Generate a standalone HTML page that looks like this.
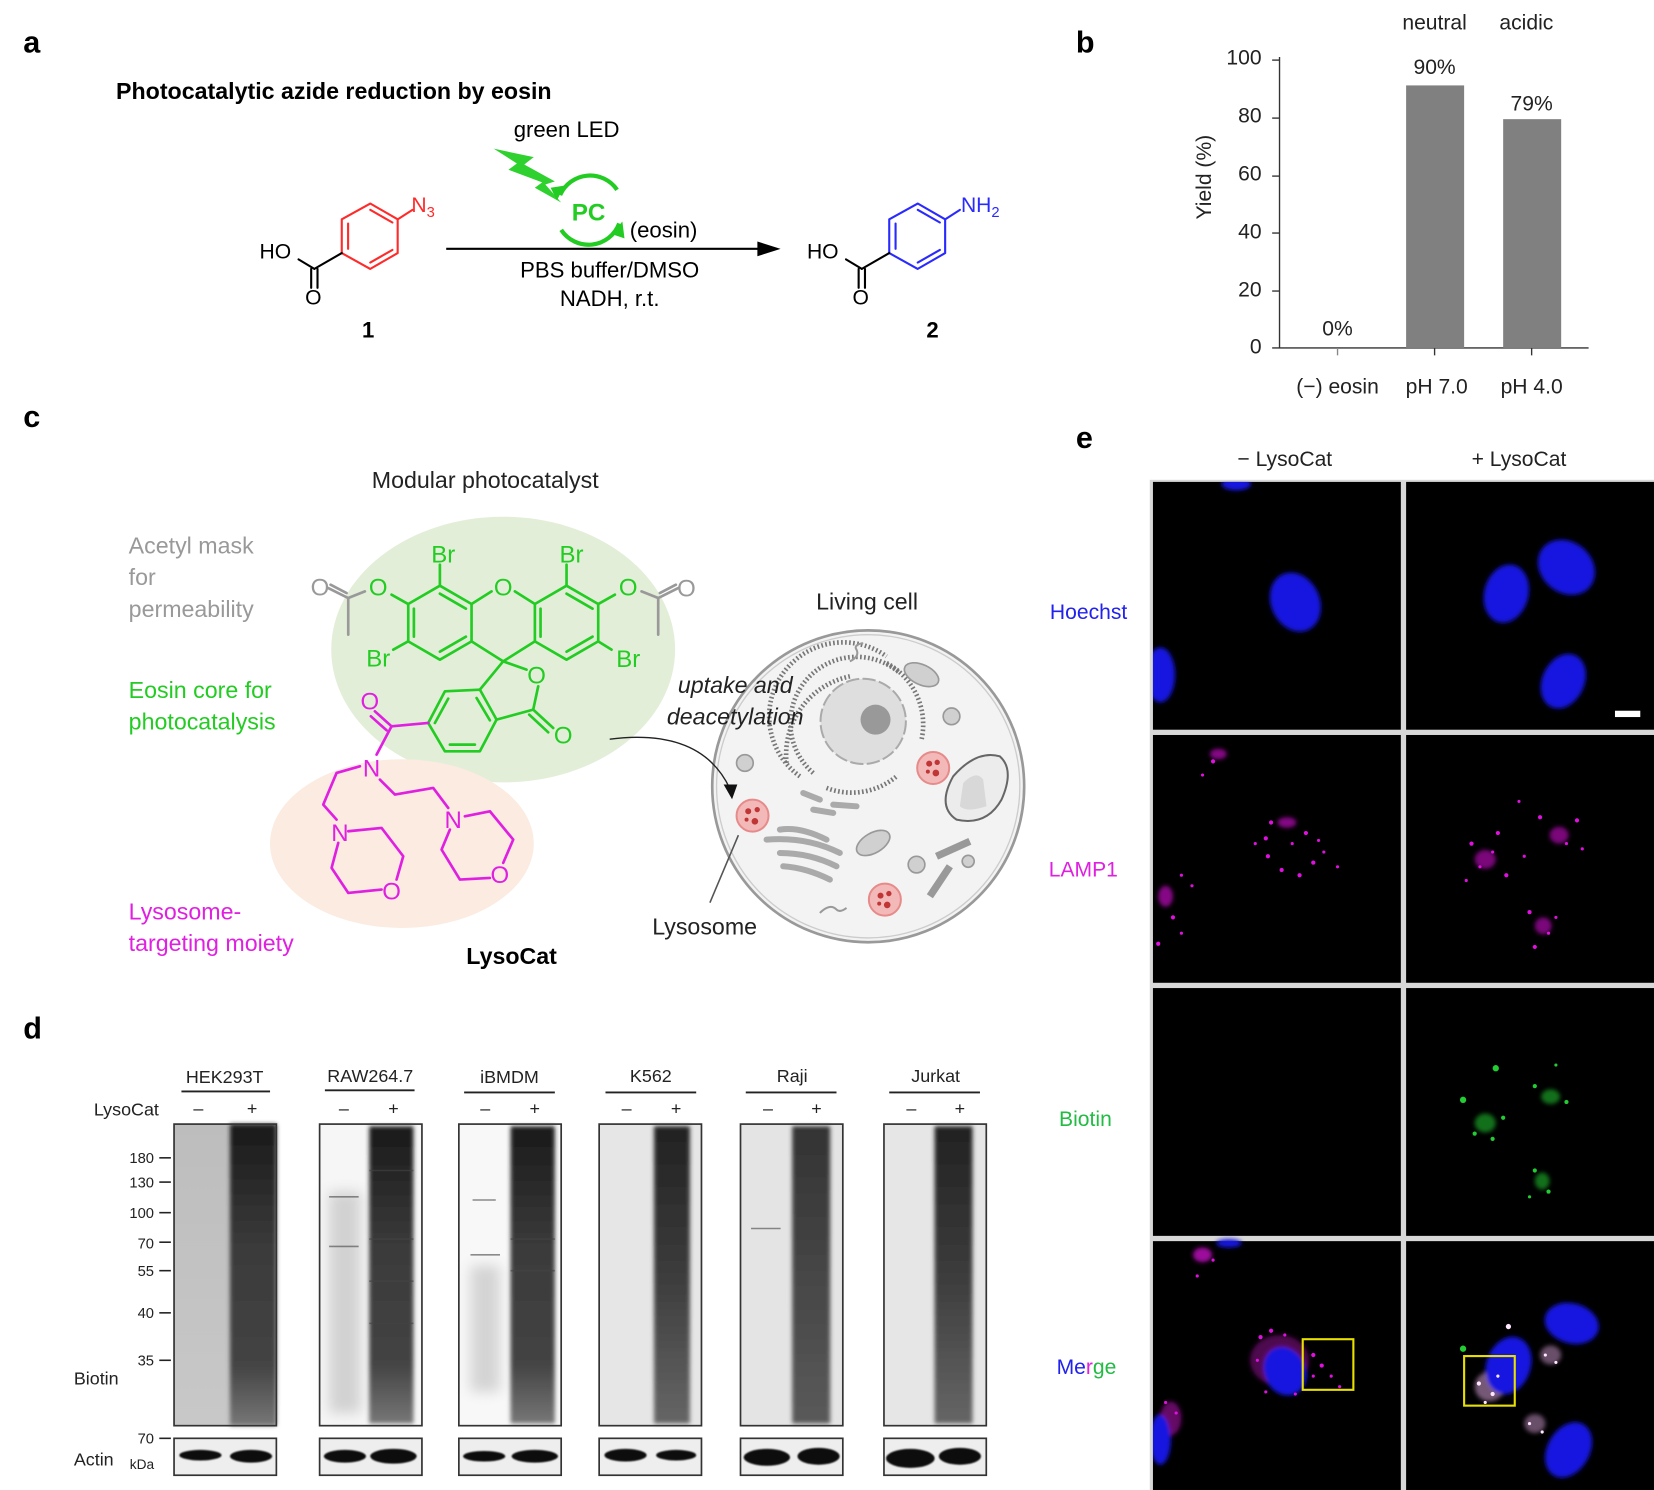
<!DOCTYPE html>
<html><head><meta charset="utf-8"><style>
html,body{margin:0;padding:0;background:#fff}
svg{display:block}
text{font-family:"Liberation Sans",Arial,sans-serif}
</style></head><body>
<svg width="1654" height="1490" viewBox="0 0 1568 1413" preserveAspectRatio="none" xmlns="http://www.w3.org/2000/svg">
<defs>
<filter id="bl" x="-50%" y="-50%" width="200%" height="200%"><feGaussianBlur stdDeviation="2"/></filter>
<filter id="bl1" x="-50%" y="-50%" width="200%" height="200%"><feGaussianBlur stdDeviation="0.8"/></filter>
<filter id="bl6" x="-50%" y="-50%" width="200%" height="200%"><feGaussianBlur stdDeviation="6"/></filter>
<linearGradient id="dk1" x1="0" y1="0" x2="0" y2="1"><stop offset="0" stop-color="#1a1a1a"/><stop offset="0.4" stop-color="#3a3a3a"/><stop offset="0.8" stop-color="#444"/><stop offset="1" stop-color="#777"/></linearGradient>
<linearGradient id="dk2" x1="0" y1="0" x2="0" y2="1"><stop offset="0" stop-color="#222"/><stop offset="0.5" stop-color="#3c3c3c"/><stop offset="1" stop-color="#666"/></linearGradient>
<linearGradient id="dk3" x1="0" y1="0" x2="0" y2="1"><stop offset="0" stop-color="#333"/><stop offset="0.6" stop-color="#4a4a4a"/><stop offset="1" stop-color="#5a5a5a"/></linearGradient>
<linearGradient id="lt1" x1="0" y1="0" x2="0" y2="1"><stop offset="0" stop-color="#bdbdbd"/><stop offset="1" stop-color="#c8c8c8"/></linearGradient>
</defs>

<!-- ===== a ===== -->
<text x="22" y="50" font-size="29" font-weight="bold">a</text>
<text x="110" y="94" font-size="22" font-weight="bold">Photocatalytic azide reduction by eosin</text>
<text x="487" y="130" font-size="21">green LED</text>
<polygon points="468,141 506,149 497,156 526,172 517,175 532,192 507,178 514,173 482,161 490,155" fill="#2ed12e"/>
<g fill="none" stroke="#22cc22" stroke-width="4">
  <path d="M 531 185 A 31 31 0 0 1 585 180"/>
  <path d="M 587 212 A 31 31 0 0 1 532 218"/>
</g>
<polygon points="535,176 528,190 522,178" fill="#22cc22"/>
<polygon points="580,222 590,210 592,226" fill="#22cc22"/>
<text x="558" y="209" font-size="23" font-weight="bold" fill="#22cc22" text-anchor="middle">PC</text>
<text x="597" y="225" font-size="21">(eosin)</text>
<line x1="423" y1="236" x2="720" y2="236" stroke="#000" stroke-width="2"/>
<polygon points="740,236 718,229 718,243" fill="#000"/>
<text x="578" y="263" font-size="21" text-anchor="middle">PBS buffer/DMSO</text>
<text x="578" y="290" font-size="21" text-anchor="middle">NADH, r.t.</text>
<text x="349" y="320" font-size="21" font-weight="bold" text-anchor="middle">1</text>
<text x="884" y="320" font-size="21" font-weight="bold" text-anchor="middle">2</text>
<g stroke-linecap="round" stroke-linejoin="round" stroke-width="2" fill="none">
  <g stroke="#ff2a2a">
    <polygon points="351,193 377,208 377,240 351,255 324,240 324,208"/>
    <line x1="330" y1="212" x2="330" y2="236"/><line x1="351" y1="199" x2="372" y2="211"/><line x1="372" y1="237" x2="351" y2="249"/>
    <line x1="377" y1="208" x2="391" y2="199"/>
  </g>
  <g stroke="#000">
    <line x1="324" y1="240" x2="298" y2="255"/><line x1="298" y1="255" x2="283" y2="246"/>
    <line x1="295" y1="255" x2="295" y2="273"/><line x1="301" y1="255" x2="301" y2="273"/>
  </g>
  <g transform="translate(519,0)">
  <g stroke="#2a2aff">
    <polygon points="351,193 377,208 377,240 351,255 324,240 324,208"/>
    <line x1="330" y1="212" x2="330" y2="236"/><line x1="351" y1="199" x2="372" y2="211"/><line x1="372" y1="237" x2="351" y2="249"/>
    <line x1="377" y1="208" x2="391" y2="199"/>
  </g>
  <g stroke="#000">
    <line x1="324" y1="240" x2="298" y2="255"/><line x1="298" y1="255" x2="283" y2="246"/>
    <line x1="295" y1="255" x2="295" y2="273"/><line x1="301" y1="255" x2="301" y2="273"/>
  </g>
  </g>
</g>
<text x="390" y="201" font-size="20" fill="#ff2a2a">N<tspan font-size="14" dy="5">3</tspan></text>
<text x="246" y="245" font-size="20">HO</text>
<text x="297" y="289" font-size="20" text-anchor="middle">O</text>
<text x="911" y="201" font-size="20" fill="#2a2aff">NH<tspan font-size="14" dy="5">2</tspan></text>
<text x="765" y="245" font-size="20">HO</text>
<text x="816" y="289" font-size="20" text-anchor="middle">O</text>

<!-- ===== b ===== -->
<text x="1020" y="50" font-size="29" font-weight="bold">b</text>
<text x="1360" y="28" font-size="20" text-anchor="middle" fill="#222">neutral</text>
<text x="1447" y="28" font-size="20" text-anchor="middle" fill="#222">acidic</text>
<g stroke="#333" stroke-width="1.3">
  <line x1="1213" y1="54" x2="1213" y2="330"/>
  <line x1="1206" y1="330" x2="1506" y2="330"/>
  <line x1="1206" y1="57" x2="1213" y2="57"/><line x1="1206" y1="112" x2="1213" y2="112"/><line x1="1206" y1="167" x2="1213" y2="167"/>
  <line x1="1206" y1="221" x2="1213" y2="221"/><line x1="1206" y1="276" x2="1213" y2="276"/>
  <line x1="1268" y1="330" x2="1268" y2="337" stroke="#888"/>
  <line x1="1360" y1="330" x2="1360" y2="337"/><line x1="1452" y1="330" x2="1452" y2="337"/>
</g>
<g font-size="20" text-anchor="end" fill="#222">
  <text x="1196" y="61">100</text><text x="1196" y="116">80</text><text x="1196" y="171">60</text>
  <text x="1196" y="226">40</text><text x="1196" y="281">20</text><text x="1196" y="335">0</text>
</g>
<text transform="translate(1148,168) rotate(-90)" font-size="20" text-anchor="middle" fill="#222">Yield (%)</text>
<rect x="1333" y="81" width="55" height="249" fill="#808080"/>
<rect x="1425" y="113" width="55" height="217" fill="#808080"/>
<g font-size="20" text-anchor="middle" fill="#222">
  <text x="1268" y="318">0%</text><text x="1360" y="70">90%</text><text x="1452" y="105">79%</text>
  <text x="1268" y="373">(−) eosin</text><text x="1362" y="373">pH 7.0</text><text x="1452" y="373">pH 4.0</text>
</g>

<!-- ===== c ===== -->
<text x="22" y="405" font-size="29" font-weight="bold">c</text>
<text x="460" y="463" font-size="22" text-anchor="middle" fill="#222">Modular photocatalyst</text>
<ellipse cx="477" cy="616" rx="163" ry="126" fill="#e3eed9"/>
<ellipse cx="381" cy="800" rx="125" ry="80" fill="#fbebe0"/>
<g font-size="22">
  <text x="122" y="525" fill="#999">Acetyl mask</text>
  <text x="122" y="555" fill="#999">for</text>
  <text x="122" y="585" fill="#999">permeability</text>
  <text x="122" y="662" fill="#22cc22">Eosin core for</text>
  <text x="122" y="692" fill="#22cc22">photocatalysis</text>
  <text x="122" y="872" fill="#e020e0">Lysosome-</text>
  <text x="122" y="902" fill="#e020e0">targeting moiety</text>
</g>
<text x="485" y="914" font-size="22" font-weight="bold" text-anchor="middle">LysoCat</text>

<g transform="translate(246.4,483.4) scale(0.31596)" stroke-linecap="round" stroke-linejoin="round" font-size="72">
  <g fill="none" stroke="#22cc22" stroke-width="8">
    <polygon points="540,228 635,283 635,395 540,450 445,395 445,283"/>
    <line x1="540" y1="252" x2="618" y2="297"/><line x1="618" y1="381" x2="540" y2="426"/><line x1="462" y1="297" x2="462" y2="381"/>
    <polygon points="920,228 1015,283 1015,395 920,450 825,395 825,283"/>
    <line x1="842" y1="297" x2="842" y2="381"/><line x1="920" y1="252" x2="998" y2="297"/><line x1="998" y1="381" x2="920" y2="426"/>
    <line x1="635" y1="283" x2="695" y2="245"/><line x1="825" y1="283" x2="765" y2="245"/>
    <line x1="635" y1="395" x2="730" y2="455"/><line x1="825" y1="395" x2="730" y2="455"/>
    <line x1="540" y1="228" x2="540" y2="165"/><line x1="920" y1="228" x2="920" y2="165"/>
    <line x1="445" y1="283" x2="395" y2="255"/><line x1="1015" y1="283" x2="1065" y2="255"/>
    <line x1="445" y1="395" x2="400" y2="420"/><line x1="1015" y1="395" x2="1055" y2="420"/>
    <line x1="730" y1="455" x2="660" y2="540"/><line x1="730" y1="455" x2="800" y2="480"/>
    <line x1="835" y1="530" x2="820" y2="600"/><line x1="820" y1="600" x2="710" y2="630"/>
    <line x1="820" y1="600" x2="880" y2="655"/><line x1="808" y1="615" x2="865" y2="668"/>
    <polygon points="660,540 710,630 660,725 555,725 505,640 555,545"/>
    <line x1="650" y1="565" x2="690" y2="632"/><line x1="645" y1="705" x2="570" y2="705"/><line x1="525" y1="640" x2="565" y2="567"/>
  </g>
  <g fill="#22cc22" text-anchor="middle">
    <text x="730" y="257">O</text><text x="355" y="257">O</text><text x="1105" y="257">O</text>
    <text x="550" y="158">Br</text><text x="935" y="158">Br</text><text x="355" y="470">Br</text><text x="1105" y="472">Br</text>
    <text x="830" y="522">O</text><text x="910" y="702">O</text>
  </g>
  <g fill="none" stroke="#999" stroke-width="8">
    <line x1="315" y1="245" x2="265" y2="265"/><line x1="265" y1="265" x2="265" y2="375"/>
    <line x1="265" y1="265" x2="205" y2="235"/><line x1="260" y1="250" x2="212" y2="225"/>
    <line x1="1145" y1="245" x2="1195" y2="265"/><line x1="1195" y1="265" x2="1195" y2="375"/>
    <line x1="1195" y1="265" x2="1255" y2="235"/><line x1="1200" y1="250" x2="1248" y2="225"/>
  </g>
  <g fill="#999" text-anchor="middle"><text x="180" y="257">O</text><text x="1280" y="260">O</text></g>
  <g fill="none" stroke="#e020e0" stroke-width="8">
    <line x1="505" y1="640" x2="395" y2="650"/><line x1="395" y1="650" x2="345" y2="605"/><line x1="380" y1="662" x2="333" y2="620"/>
    <line x1="395" y1="650" x2="350" y2="735"/>
    <polyline points="300,770 230,790 190,885 230,930"/>
    <polyline points="265,965 365,955 430,1040 410,1110"/><polyline points="365,1140 265,1150 215,1075 235,1000"/>
    <polyline points="360,810 405,855 520,835 565,895"/>
    <polyline points="615,920 690,905 760,990 730,1060"/><polyline points="690,1105 600,1110 545,1020 570,960"/>
  </g>
  <g fill="#e020e0" text-anchor="middle">
    <text x="330" y="600">O</text><text x="335" y="800">N</text><text x="240" y="995">N</text><text x="395" y="1170">O</text>
    <text x="580" y="955">N</text><text x="720" y="1120">O</text>
  </g>
</g>

<!-- cell -->
<text x="822" y="578" font-size="22" text-anchor="middle" fill="#222">Living cell</text>
<g transform="translate(663.5,587.7) scale(0.31596)">
  <circle cx="505" cy="500" r="468" fill="#f3f3f3" stroke="#999" stroke-width="8"/>
  <circle cx="505" cy="500" r="455" fill="none" stroke="#ccc" stroke-width="4"/>
  <g fill="none" stroke="#777" stroke-width="14" stroke-dasharray="5 7">
    <path d="M 340 460 A 175 175 0 0 1 600 160"/>
    <path d="M 300 470 A 210 210 0 0 1 560 110"/>
    <path d="M 260 430 A 240 240 0 0 1 450 170"/>
    <path d="M 560 130 A 210 210 0 0 1 665 360"/>
    <path d="M 380 505 A 210 210 0 0 0 590 470"/>
  </g>
  <circle cx="490" cy="305" r="128" fill="#dedede" stroke="#aaa" stroke-width="6" stroke-dasharray="40 10"/>
  <circle cx="527" cy="300" r="45" fill="#999"/>
  <g fill="#d0d0d0" stroke="#999" stroke-width="5">
    <ellipse cx="665" cy="165" rx="55" ry="30" transform="rotate(25 665 165)"/>
    <ellipse cx="520" cy="670" rx="55" ry="30" transform="rotate(-30 520 670)"/>
    <circle cx="755" cy="290" r="25"/><circle cx="135" cy="430" r="25"/><circle cx="650" cy="735" r="25"/><circle cx="805" cy="725" r="18"/>
  </g>
  <g fill="none" stroke="#aaa" stroke-width="18" stroke-linecap="round">
    <path d="M 200 660 Q 320 650 420 700"/><path d="M 240 700 Q 330 700 410 740"/><path d="M 250 740 Q 320 745 390 780"/>
    <path d="M 240 630 Q 300 620 380 660"/><path d="M 310 520 L 360 540"/><path d="M 400 555 L 470 560"/><path d="M 340 570 L 400 580"/>
  </g>
  <path d="M 760 470 Q 830 390 900 410 Q 945 450 905 540 Q 860 620 770 600 Q 710 560 760 470 Z" fill="#ececec" stroke="#666" stroke-width="6"/>
  <path d="M 790 490 Q 830 450 850 480 L 860 560 Q 800 580 780 560 Z" fill="#d8d8d8"/>
  <g stroke="#999" stroke-width="22"><line x1="710" y1="710" x2="810" y2="665"/><line x1="690" y1="830" x2="750" y2="740"/></g>
  <g fill="#f3b9b9" stroke="#e68a8a" stroke-width="6">
    <circle cx="158" cy="588" r="48"/><circle cx="700" cy="445" r="48"/><circle cx="555" cy="840" r="48"/>
  </g>
  <g fill="#c03535">
    <circle cx="145" cy="575" r="9"/><circle cx="172" cy="570" r="8"/><circle cx="165" cy="605" r="10"/><circle cx="140" cy="600" r="6"/>
    <circle cx="688" cy="432" r="9"/><circle cx="712" cy="428" r="8"/><circle cx="708" cy="460" r="10"/><circle cx="684" cy="456" r="6"/>
    <circle cx="542" cy="828" r="9"/><circle cx="567" cy="822" r="8"/><circle cx="562" cy="856" r="10"/><circle cx="538" cy="852" r="6"/>
  </g>
  <g fill="none" stroke="#999" stroke-width="6"><path d="M 450 125 Q 480 110 470 90 Q 460 75 490 70"/><path d="M 360 880 Q 390 850 410 870 Q 420 880 440 865"/></g>
</g>
<text x="697" y="657" font-size="22" font-style="italic" text-anchor="middle" fill="#222">uptake and</text>
<text x="697" y="687" font-size="22" font-style="italic" text-anchor="middle" fill="#222">deacetylation</text>
<path d="M 578 701 Q 665 690 692 748" fill="none" stroke="#222" stroke-width="1.3"/>
<polygon points="694,758 686,744 699,744" fill="#111"/>
<line x1="700" y1="792" x2="673" y2="856" stroke="#555" stroke-width="1.5"/>
<text x="668" y="886" font-size="22" text-anchor="middle" fill="#222">Lysosome</text>

<!-- ===== d ===== -->
<text x="22" y="985" font-size="29" font-weight="bold">d</text>
<g font-size="17" fill="#222" text-anchor="middle">
  <text x="213" y="1027">HEK293T</text><text x="351" y="1026">RAW264.7</text><text x="483" y="1027">iBMDM</text>
  <text x="617" y="1026">K562</text><text x="751" y="1026">Raji</text><text x="887" y="1026">Jurkat</text>
</g>
<g stroke="#222" stroke-width="1.8">
  <line x1="172" y1="1035" x2="256" y2="1035"/><line x1="308" y1="1034" x2="393" y2="1034"/><line x1="440" y1="1036" x2="526" y2="1036"/>
  <line x1="574" y1="1036" x2="660" y2="1036"/><line x1="707" y1="1036" x2="793" y2="1036"/><line x1="843" y1="1036" x2="929" y2="1036"/>
</g>
<text x="89" y="1058" font-size="17" fill="#222">LysoCat</text>
<g font-size="17" fill="#222" text-anchor="middle">
  <text x="188" y="1057">–</text><text x="239" y="1057">+</text><text x="326" y="1057">–</text><text x="373" y="1057">+</text>
  <text x="460" y="1057">–</text><text x="507" y="1057">+</text><text x="594" y="1057">–</text><text x="641" y="1057">+</text>
  <text x="728" y="1057">–</text><text x="774" y="1057">+</text><text x="864" y="1057">–</text><text x="910" y="1057">+</text>
</g>
<g font-size="14" fill="#222" text-anchor="end">
  <text x="146" y="1103">180</text><text x="146" y="1126">130</text><text x="146" y="1155">100</text><text x="146" y="1184">70</text>
  <text x="146" y="1210">55</text><text x="146" y="1250">40</text><text x="146" y="1295">35</text><text x="146" y="1369">70</text>
</g>
<g stroke="#222" stroke-width="1.5">
  <line x1="151" y1="1098" x2="162" y2="1098"/><line x1="151" y1="1121" x2="162" y2="1121"/><line x1="151" y1="1150" x2="162" y2="1150"/>
  <line x1="151" y1="1178" x2="162" y2="1178"/><line x1="151" y1="1205" x2="162" y2="1205"/><line x1="151" y1="1245" x2="162" y2="1245"/>
  <line x1="151" y1="1290" x2="162" y2="1290"/><line x1="151" y1="1364" x2="162" y2="1364"/>
</g>
<text x="70" y="1313" font-size="17" fill="#222">Biotin</text>
<text x="70" y="1390" font-size="17" fill="#222">Actin</text>
<text x="123" y="1393" font-size="13" fill="#222">kDa</text>

<!-- blots -->
<g>
  <rect x="165" y="1066" width="97" height="286" fill="url(#lt1)"/>
  <rect x="218" y="1066" width="44" height="286" fill="url(#dk1)" filter="url(#bl)"/>
  <rect x="303" y="1066" width="97" height="286" fill="#f6f6f6"/>
  <rect x="312" y="1130" width="30" height="210" fill="#d2d2d2" filter="url(#bl6)"/>
  <rect x="350" y="1068" width="42" height="282" fill="url(#dk1)" filter="url(#bl)"/>
  <rect x="435" y="1066" width="97" height="286" fill="#f8f8f8"/>
  <rect x="446" y="1200" width="28" height="120" fill="#d4d4d4" filter="url(#bl6)"/>
  <rect x="484" y="1068" width="42" height="282" fill="url(#dk1)" filter="url(#bl)"/>
  <rect x="568" y="1066" width="97" height="286" fill="#e6e6e6"/>
  <rect x="620" y="1068" width="34" height="282" fill="url(#dk2)" filter="url(#bl)"/>
  <rect x="702" y="1066" width="97" height="286" fill="#e4e4e4"/>
  <rect x="751" y="1068" width="36" height="282" fill="url(#dk3)" filter="url(#bl)"/>
  <rect x="838" y="1066" width="97" height="286" fill="#e6e6e6"/>
  <rect x="886" y="1068" width="36" height="282" fill="url(#dk2)" filter="url(#bl)"/>
  <g stroke="#444" stroke-width="1.5" opacity="0.6">
    <line x1="312" y1="1135" x2="340" y2="1135"/><line x1="312" y1="1182" x2="340" y2="1182"/><line x1="350" y1="1110" x2="392" y2="1110"/>
    <line x1="350" y1="1175" x2="392" y2="1175"/><line x1="350" y1="1215" x2="392" y2="1215"/><line x1="350" y1="1255" x2="392" y2="1255"/>
    <line x1="448" y1="1138" x2="470" y2="1138"/><line x1="446" y1="1190" x2="474" y2="1190"/><line x1="484" y1="1175" x2="526" y2="1175"/><line x1="484" y1="1205" x2="526" y2="1205"/>
    <line x1="712" y1="1165" x2="740" y2="1165"/>
  </g>
  <g fill="none" stroke="#333" stroke-width="1.6">
    <rect x="165" y="1066" width="97" height="286"/><rect x="303" y="1066" width="97" height="286"/><rect x="435" y="1066" width="97" height="286"/>
    <rect x="568" y="1066" width="97" height="286"/><rect x="702" y="1066" width="97" height="286"/><rect x="838" y="1066" width="97" height="286"/>
  </g>
  <g fill="#eee" stroke="#333" stroke-width="1.6">
    <rect x="165" y="1364" width="97" height="35"/><rect x="303" y="1364" width="97" height="35"/><rect x="435" y="1364" width="97" height="35"/>
    <rect x="568" y="1364" width="97" height="35"/><rect x="702" y="1364" width="97" height="35"/><rect x="838" y="1364" width="97" height="35"/>
  </g>
  <g fill="#0a0a0a" filter="url(#bl1)">
    <ellipse cx="190" cy="1380" rx="20" ry="5"/><ellipse cx="238" cy="1381" rx="20" ry="6"/>
    <ellipse cx="327" cy="1381" rx="20" ry="6"/><ellipse cx="373" cy="1381" rx="22" ry="7"/>
    <ellipse cx="459" cy="1381" rx="20" ry="5"/><ellipse cx="507" cy="1381" rx="22" ry="6"/>
    <ellipse cx="593" cy="1380" rx="20" ry="6"/><ellipse cx="641" cy="1380" rx="19" ry="5"/>
    <ellipse cx="727" cy="1382" rx="22" ry="8"/><ellipse cx="776" cy="1381" rx="20" ry="8"/>
    <ellipse cx="863" cy="1383" rx="23" ry="9"/><ellipse cx="910" cy="1381" rx="20" ry="8"/>
  </g>
</g>

<!-- ===== e ===== -->
<text x="1020" y="425" font-size="29" font-weight="bold">e</text>
<text x="1218" y="442" font-size="20" text-anchor="middle" fill="#222">− LysoCat</text>
<text x="1440" y="442" font-size="20" text-anchor="middle" fill="#222">+  LysoCat</text>
<g font-size="20" text-anchor="middle">
  <text x="1032" y="587" fill="#2222ee">Hoechst</text>
  <text x="1027" y="831" fill="#e020e0">LAMP1</text>
  <text x="1029" y="1068" fill="#22bb44">Biotin</text>
  <text x="1030" y="1303"><tspan fill="#2222ee">Me</tspan><tspan fill="#e020e0">r</tspan><tspan fill="#22bb44">ge</tspan></text>
</g>
<rect x="1090" y="455" width="478" height="958" fill="#d8d8d8"/>
<g fill="#000">
  <rect x="1093" y="457" width="235" height="235"/><rect x="1333" y="457" width="235" height="235"/>
  <rect x="1093" y="697" width="235" height="235"/><rect x="1333" y="697" width="235" height="235"/>
  <rect x="1093" y="937" width="235" height="235"/><rect x="1333" y="937" width="235" height="235"/>
  <rect x="1093" y="1177" width="235" height="236"/><rect x="1333" y="1177" width="235" height="236"/>
</g>
<svg x="1093" y="457" width="475" height="956" viewBox="1093 457 475 956" overflow="hidden">
<!-- Hoechst -->
<g fill="#1818e0" filter="url(#bl)">
  <ellipse cx="1228" cy="571" rx="23" ry="29" transform="rotate(-25 1228 571)"/>
  <ellipse cx="1172" cy="459" rx="14" ry="6"/>
  <ellipse cx="1100" cy="640" rx="14" ry="26"/>
  <ellipse cx="1428" cy="563" rx="21" ry="28" transform="rotate(15 1428 563)"/>
  <ellipse cx="1485" cy="538" rx="24" ry="29" transform="rotate(-50 1485 538)"/>
  <ellipse cx="1482" cy="646" rx="20" ry="27" transform="rotate(25 1482 646)"/>
</g>
<!-- LAMP1 -->
<g fill="#e010e0">
  <g filter="url(#bl)" opacity="0.6"><ellipse cx="1155" cy="715" rx="8" ry="5"/><ellipse cx="1220" cy="780" rx="9" ry="5"/><ellipse cx="1105" cy="850" rx="7" ry="10"/></g>
  <circle cx="1150" cy="722" r="2"/><circle cx="1140" cy="735" r="1.5"/><circle cx="1205" cy="780" r="2"/><circle cx="1200" cy="795" r="2"/><circle cx="1202" cy="812" r="2"/>
  <circle cx="1215" cy="825" r="2"/><circle cx="1232" cy="830" r="2"/><circle cx="1245" cy="818" r="2"/><circle cx="1255" cy="808" r="1.5"/><circle cx="1268" cy="822" r="1.5"/>
  <circle cx="1238" cy="790" r="2"/><circle cx="1250" cy="797" r="1.5"/><circle cx="1112" cy="870" r="2"/><circle cx="1120" cy="885" r="1.5"/><circle cx="1098" cy="895" r="2"/>
  <circle cx="1130" cy="840" r="1.5"/><circle cx="1120" cy="830" r="1.5"/><circle cx="1190" cy="800" r="1.5"/><circle cx="1225" cy="800" r="1.5"/>
  <g filter="url(#bl)" opacity="0.55"><ellipse cx="1408" cy="815" rx="10" ry="9"/><ellipse cx="1478" cy="792" rx="9" ry="8"/><ellipse cx="1463" cy="878" rx="8" ry="8"/></g>
  <circle cx="1395" cy="800" r="2"/><circle cx="1420" cy="790" r="2"/><circle cx="1428" cy="830" r="2"/><circle cx="1390" cy="835" r="1.5"/>
  <circle cx="1460" cy="775" r="2"/><circle cx="1495" cy="778" r="2"/><circle cx="1500" cy="805" r="1.5"/><circle cx="1445" cy="812" r="1.5"/>
  <circle cx="1450" cy="865" r="2"/><circle cx="1475" cy="870" r="1.5"/><circle cx="1455" cy="898" r="2"/><circle cx="1440" cy="760" r="1.5"/>
  <circle cx="1403" cy="822" r="1.5"/><circle cx="1415" cy="808" r="1.5"/><circle cx="1485" cy="800" r="1.5"/><circle cx="1468" cy="885" r="1.5"/>
</g>
<!-- Biotin -->
<g fill="#22cc33">
  <g filter="url(#bl)" opacity="0.55"><ellipse cx="1408" cy="1065" rx="10" ry="9"/><ellipse cx="1470" cy="1040" rx="9" ry="7"/><ellipse cx="1462" cy="1120" rx="7" ry="8"/></g>
  <circle cx="1418" cy="1013" r="3"/><circle cx="1387" cy="1043" r="3"/><circle cx="1398" cy="1075" r="2"/><circle cx="1415" cy="1080" r="2"/>
  <circle cx="1425" cy="1060" r="2"/><circle cx="1455" cy="1030" r="2"/><circle cx="1485" cy="1045" r="2"/><circle cx="1475" cy="1010" r="1.5"/>
  <circle cx="1455" cy="1110" r="2"/><circle cx="1468" cy="1130" r="2"/><circle cx="1450" cy="1135" r="1.5"/>
</g>
<!-- Merge -->
<g filter="url(#bl)">
  <ellipse cx="1140" cy="1190" rx="9" ry="7" fill="#e010e0" opacity="0.7"/>
  <ellipse cx="1213" cy="1290" rx="28" ry="24" fill="#e010e0" opacity="0.35"/>
  <ellipse cx="1110" cy="1345" rx="10" ry="16" fill="#e010e0" opacity="0.45"/>
  <ellipse cx="1218" cy="1300" rx="20" ry="24" transform="rotate(-25 1218 1300)" fill="#1818e0"/>
  <ellipse cx="1100" cy="1365" rx="10" ry="24" fill="#1818e0"/>
  <ellipse cx="1165" cy="1179" rx="12" ry="4" fill="#1818e0"/>
  <ellipse cx="1412" cy="1315" rx="14" ry="14" fill="#e9b0e9" opacity="0.5"/>
  <ellipse cx="1470" cy="1285" rx="10" ry="9" fill="#e9b0e9" opacity="0.45"/>
  <ellipse cx="1455" cy="1350" rx="10" ry="9" fill="#e9b0e9" opacity="0.45"/>
  <ellipse cx="1490" cy="1255" rx="26" ry="19" transform="rotate(15 1490 1255)" fill="#1818e0"/>
  <ellipse cx="1430" cy="1295" rx="21" ry="28" transform="rotate(20 1430 1295)" fill="#1818e0"/>
  <ellipse cx="1487" cy="1375" rx="20" ry="28" transform="rotate(30 1487 1375)" fill="#1818e0"/>
</g>
<g fill="#e010e0">
  <circle cx="1245" cy="1285" r="2"/><circle cx="1253" cy="1295" r="2"/><circle cx="1262" cy="1305" r="1.5"/><circle cx="1270" cy="1315" r="1.5"/>
  <circle cx="1245" cy="1305" r="1.5"/><circle cx="1200" cy="1320" r="1.5"/><circle cx="1228" cy="1322" r="1.5"/>
  <circle cx="1195" cy="1268" r="2"/><circle cx="1205" cy="1262" r="2"/><circle cx="1218" cy="1266" r="1.5"/><circle cx="1192" cy="1290" r="1.5"/>
  <circle cx="1150" cy="1195" r="1.5"/><circle cx="1135" cy="1210" r="1.5"/><circle cx="1105" cy="1330" r="1.5"/><circle cx="1115" cy="1340" r="1.5"/>
</g>
<g fill="#ffe8ff">
  <circle cx="1402" cy="1312" r="2"/><circle cx="1415" cy="1322" r="2"/><circle cx="1420" cy="1305" r="1.5"/><circle cx="1408" cy="1330" r="1.5"/>
  <circle cx="1465" cy="1285" r="1.5"/><circle cx="1475" cy="1292" r="1.5"/><circle cx="1450" cy="1350" r="1.5"/><circle cx="1462" cy="1358" r="1.5"/><circle cx="1430" cy="1258" r="2.5"/>
</g>
<circle cx="1387" cy="1279" r="3" fill="#22cc33"/>
</svg>
<rect x="1531" y="674" width="24" height="6" fill="#fff"/>
<g fill="none" stroke="#e8e000" stroke-width="2">
  <rect x="1235" y="1270" width="48" height="48"/>
  <rect x="1388" y="1286" width="48" height="47"/>
</g>
</svg>
</body></html>
